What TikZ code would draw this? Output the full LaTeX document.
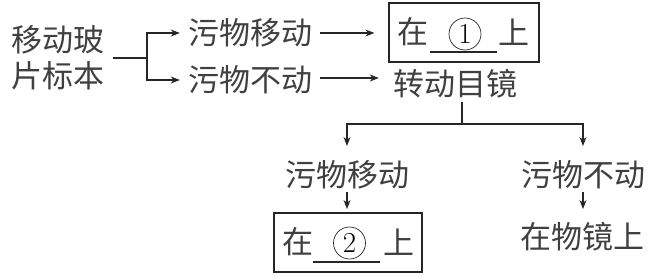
\documentclass[tikz,border=0pt]{standalone}
\usepackage{fontspec}
\newfontfamily\cjk{Noto Sans CJK SC}
\usetikzlibrary{arrows.meta}
\begin{document}
\begin{tikzpicture}[x=1pt,y=-1pt,
  txt/.style={font=\cjk\fontsize{31}{36}\selectfont, inner sep=0pt, text=black!75},
  conn/.style={line width=1.1pt, draw=black!85},
  arr/.style={conn, -{Stealth[length=9pt,width=7pt]}},
  answerbox/.style={draw=black!85, line width=1.2pt, inner sep=0pt},
  numcirc/.style={circle, draw=black!85, line width=0.7pt, minimum size=32pt, inner sep=0pt, font=\fontsize{29}{29}\selectfont},
  blank/.style={line width=1.1pt, draw=black!85}]
\useasboundingbox (0,0) rectangle (653,276);
% source
\node[txt, align=center] (src) at (58,58) {移动玻\\片标本};
\node[txt] (m1) at (250,33) {污物移动};
\node[txt] (m2) at (250,80) {污物不动};
\coordinate (br) at (147,58);
\coordinate (s0) at (113,58);
\draw[conn] (s0) -- (br);
\draw[arr] (br) |- ([xshift=-8pt]m1.west);
\draw[arr] (br) |- ([xshift=-8pt]m2.west);
% box 1
\node[answerbox, minimum width=150pt, minimum height=59pt] (b1) at (464,32.5) {};
\node[txt] (b1a) at (412.5,31.5) {在};
\node[numcirc] (c1) at (465,34) {1};
\coordinate (u1a) at (430,52);
\coordinate (u1b) at (497,52);
\draw[blank] (u1a) -- (u1b);
\node[txt] (b1b) at (514,32) {上};
\draw[arr, shorten <=8pt, shorten >=14pt] (m1.east) -- (m1.east -| b1.west);
% turn eyepiece
\node[txt] (turn) at (455,84) {转动目镜};
\draw[arr, shorten <=8pt, shorten >=14pt] ([yshift=2pt]m2.east) -- ([yshift=2pt]m2.east -| turn.west);
\coordinate (tdown) at (462,102);
\coordinate (split) at (462,124);
\draw[conn] (tdown) -- (split);
\node[txt] (l1) at (347,175) {污物移动};
\node[txt] (l2) at (583,175) {污物不动};
\coordinate (e1) at (347,146);
\coordinate (e2) at (583,146);
\draw[arr] (split) -| (e1);
\draw[arr] (split) -| (e2);
% box 2
\node[answerbox, minimum width=148pt, minimum height=59pt] (b2) at (348,242.5) {};
\node[txt] (b2a) at (297.5,242) {在};
\node[numcirc] (c2) at (349.5,243) {2};
\coordinate (u2a) at (313,262);
\coordinate (u2b) at (380,262);
\draw[blank] (u2a) -- (u2b);
\node[txt] (b2b) at (399,242) {上};
\node[txt] (r) at (582,237) {在物镜上};
\coordinate (g1) at (347,192);
\coordinate (g2) at (583,192);
\coordinate (f1) at (347,209);
\coordinate (f2) at (583,209);
\draw[arr] (g1) -- (f1);
\draw[arr] (g2) -- (f2);
\end{tikzpicture}
\end{document}
